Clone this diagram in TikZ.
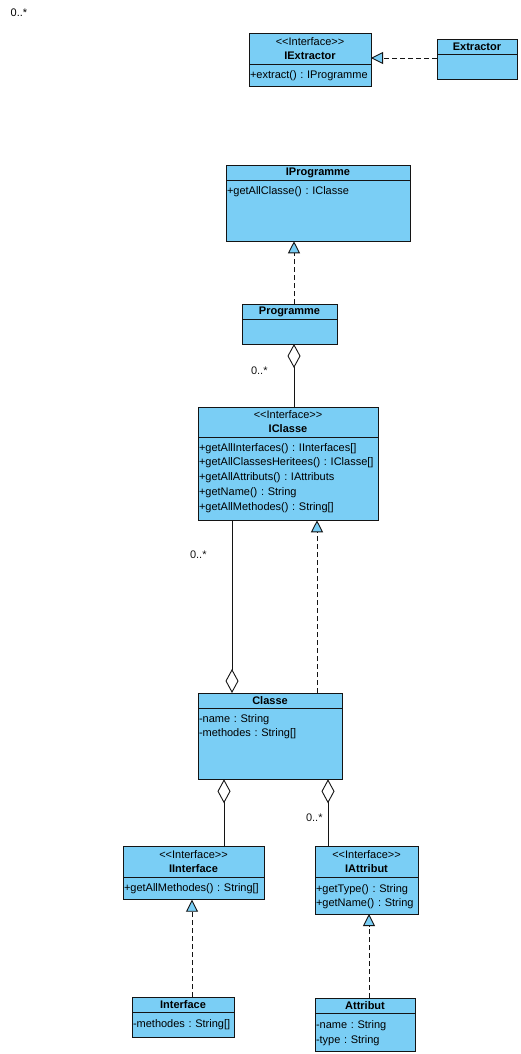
\documentclass[tikz,border=0pt]{standalone}
\usepackage{fontspec}
\setmainfont{Liberation Sans}[Ligatures=TeXOff]
\usetikzlibrary{arrows.meta, positioning}
\definecolor{umlblue}{RGB}{122,206,245}
\definecolor{umlline}{RGB}{20,20,20}
\newcommand{\umlfont}{\fontsize{11}{14.7}\selectfont}
\newcommand{\stereo}{{\mdseries <{}<Interface>{}>}}
\frenchspacing

\begin{document}
\begin{tikzpicture}[
    x=1pt, y=-1pt,
    line width=0.9pt,
    classhead/.style={draw=umlline, fill=umlblue, font=\umlfont\bfseries,
                      align=center, inner sep=1pt, outer sep=0pt,
                      anchor=north, minimum height=15pt},
    ifacehead/.style={classhead, minimum height=31pt,
                      font=\fontsize{11}{14}\selectfont\bfseries},
    classbody/.style={draw=umlline, fill=umlblue, font=\umlfont, align=left,
                      inner xsep=1pt, inner ysep=4pt, outer sep=0pt,
                      execute at begin node=\strut},
    mult/.style={font=\umlfont, inner sep=1pt},
    realize/.style={umlline, dash pattern=on 5pt off 3pt,
                    -{Triangle[length=12pt, width=12pt, fill=umlblue]}},
    aggr/.style={umlline, {Diamond[length=24pt, width=13pt, fill=white]}-}
  ]
  \fill[white] (0,0) rectangle (521,1054);
  \useasboundingbox (0,0) rectangle (521,1054);

  % Extractor and its interface
  \node[ifacehead, minimum width=122pt] (iextractor) at (310,33) {\stereo\\IExtractor};
  \node[classbody, text width=120pt, minimum height=22pt, below=0pt of iextractor]
    (iextractorb) {+extract() : IProgramme};
  \node[classhead, minimum width=80pt] (extractor) at (477,39) {Extractor};
  \node[classbody, text width=78pt, minimum height=25pt, below=0pt of extractor]
    (extractorb) {};

  % Programme
  \node[classhead, minimum width=184pt] (iprogramme) at (318,165) {IProgramme};
  \node[classbody, text width=182pt, text depth=43pt, below=0pt of iprogramme]
    (iprogrammeb) {+getAllClasse() : IClasse};
  \node[classhead, minimum width=95pt] (programme) at (289.5,304) {Programme};
  \node[classbody, text width=93pt, minimum height=25pt, below=0pt of programme]
    (programmeb) {};

  % Classe
  \node[ifacehead, minimum width=180pt, minimum height=30pt] (iclasse) at (288,407)
    {\stereo\\IClasse};
  \node[classbody, text width=178pt, text depth=65pt, below=0pt of iclasse] (iclasseb)
    {+getAllInterfaces() : IInterfaces[]\\+getAllClassesHeritees() : IClasse[]\\
     +getAllAttributs() : IAttributs\\+getName() : String\\+getAllMethodes() : String[]};
  \node[classhead, minimum width=144pt] (classe) at (270,693) {Classe};
  \node[classbody, text width=142pt, text depth=53pt, below=0pt of classe] (classeb)
    {-name : String\\-methodes : String[]};

  % Interface and Attribut
  \node[ifacehead, minimum width=141pt] (iinterface) at (193.5,846) {\stereo\\IInterface};
  \node[classbody, text width=139pt, minimum height=22pt, below=0pt of iinterface]
    (iinterfaceb) {+getAllMethodes() : String[]};
  \node[ifacehead, minimum width=103pt] (iattribut) at (366.5,846) {\stereo\\IAttribut};
  \node[classbody, text width=101pt, minimum height=37pt, below=0pt of iattribut]
    (iattributb) {+getType() : String\\+getName() : String};
  \node[classhead, minimum width=102pt] (interface) at (183,997) {Interface};
  \node[classbody, text width=100pt, minimum height=25pt, below=0pt of interface]
    (interfaceb) {-methodes : String[]};
  \node[classhead, minimum width=100pt] (attribut) at (365,998) {Attribut};
  \node[classbody, text width=98pt, minimum height=38pt, below=0pt of attribut]
    (attributb) {-name : String\\-type : String};

  \node[mult] (multtop) at (19,13) {0..*};

  % Realizations
  \coordinate[below=4pt of extractorb.north west] (exreal);
  \draw[realize] (exreal) -- (exreal -| iextractor.east);
  \coordinate[right=4.5pt of programme.north] (progreal);
  \draw[realize] (progreal) -- (progreal |- iprogrammeb.south);
  \coordinate[right=47pt of classe.north] (clsreal);
  \draw[realize] (clsreal) -- (clsreal |- iclasseb.south);
  \coordinate[right=9pt of interface.north] (ifreal);
  \draw[realize] (ifreal) -- (ifreal |- iinterfaceb.south);
  \coordinate[right=4pt of attribut.north] (atreal);
  \draw[realize] (atreal) -- (atreal |- iattributb.south);

  % Aggregations
  \coordinate[right=4.5pt of programmeb.south] (progaggr);
  \draw[aggr] (progaggr) -- node[mult, pos=0.43, left=25pt] (multprog) {0..*}
    (progaggr |- iclasse.north);
  \coordinate[left=38pt of classe.north] (clsaggr);
  \draw[aggr] (clsaggr) -- node[mult, pos=0.8, left=24pt] (multcls) {0..*}
    (clsaggr |- iclasseb.south);
  \coordinate[left=46pt of classeb.south] (ifaggr);
  \draw[aggr] (ifaggr) -- (ifaggr |- iinterface.north);
  \coordinate[right=58pt of classeb.south] (ataggr);
  \draw[aggr] (ataggr) -- node[mult, pos=0.57, left=4pt] (multat) {0..*}
    (ataggr |- iattribut.north);
\end{tikzpicture}
\end{document}
